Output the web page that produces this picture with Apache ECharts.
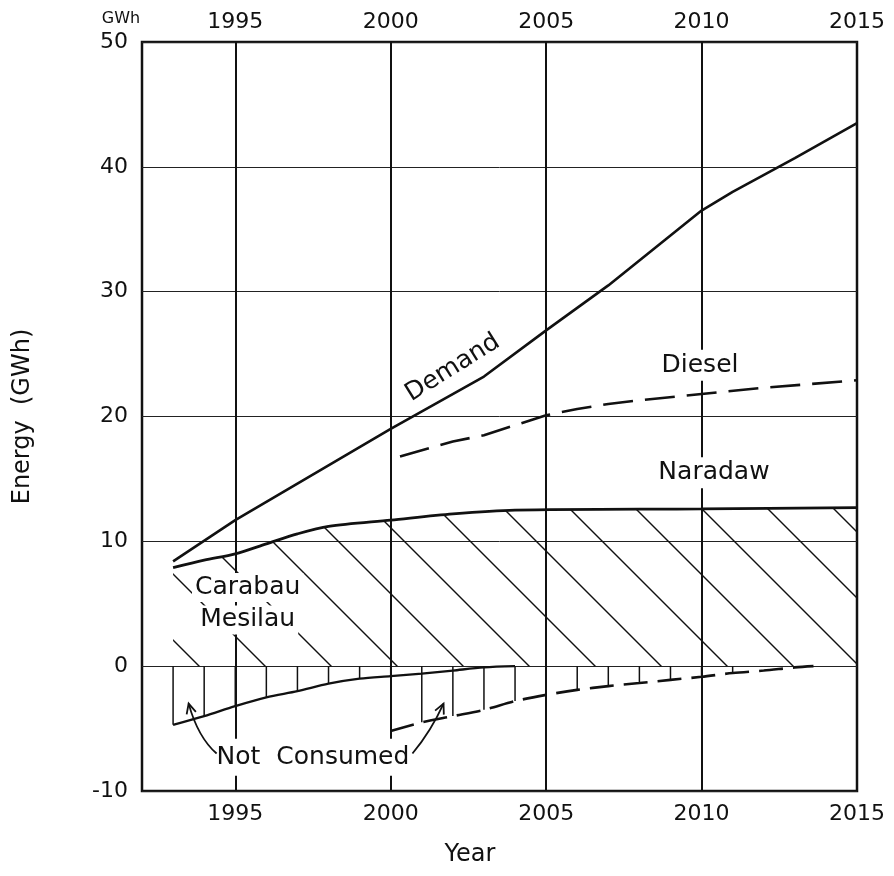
<!DOCTYPE html>
<html><head><meta charset="utf-8">
<script src="https://cdn.jsdelivr.net/npm/echarts@6/dist/echarts.min.js"></script>
<style>html,body{margin:0;padding:0;background:#fff}#c{width:894px;height:876px}</style>
</head><body><div id="c"></div>
<script>
// ---- data ----
const tickYears = [1995, 2000, 2005, 2010, 2015];
const gridYears = [1995, 2000, 2005, 2010];
const yTicks = [-10, 0, 10, 20, 30, 40, 50];

const demandYears  = [1993, 1995, 2000, 2003, 2005, 2007, 2010, 2011, 2013, 2015];
const demandValues = [8.4, 11.7, 19.0, 23.2, 26.9, 30.5, 36.5, 38.0, 40.7, 43.5];

const dieselYears  = [2000.3, 2002, 2003, 2004, 2005, 2006, 2007, 2008, 2010, 2012, 2015];
const dieselValues = [16.8, 18.0, 18.5, 19.3, 20.1, 20.6, 21.0, 21.3, 21.8, 22.3, 22.9];

const naradawYears  = [1993, 1994, 1995, 1996, 1997, 1998, 2000, 2002, 2004, 2010, 2015];
const naradawValues = [7.9, 8.5, 9.0, 9.8, 10.6, 11.2, 11.7, 12.2, 12.5, 12.6, 12.7];

const notConsumedYears  = [1993, 1994, 1995, 1996, 1997, 1998, 1999, 2000, 2001, 2002, 2003, 2004];
const notConsumedValues = [-4.7, -4.0, -3.2, -2.5, -2.0, -1.4, -1.0, -0.8, -0.6, -0.35, -0.1, 0];

const dieselNCYears  = [2000, 2001, 2002, 2003, 2004, 2005, 2006, 2007, 2008, 2009, 2010, 2011, 2012, 2013, 2013.6];
const dieselNCValues = [-5.2, -4.5, -4.0, -3.5, -2.8, -2.3, -1.9, -1.6, -1.35, -1.1, -0.85, -0.55, -0.35, -0.1, 0];

// annotation anchors in data units [year, GWh]
const labelDemand   = [2002.0, 23.9];
const labelDiesel   = [2009.95, 24.1];
const labelNaradaw  = [2010.4, 15.5];
const labelCarabau  = [1995.4, 6.3];
const labelMesilau  = [1995.4, 3.7];
const labelNotCons  = [1997.5, -7.3];
const arrowLeft  = [[1994.4, -7.0], [1993.8, -5.7], [1993.5, -3.0]];
const arrowRight = [[2000.7, -7.0], [2001.3, -5.2], [2001.7, -3.0]];

const zip = (xs, ys) => xs.map((x, i) => [x, ys[i]]);
const FONT = '"DejaVu Sans", sans-serif';
const INK = '#111';

function hatchCanvas() {
  const s = 66, r = 5;
  const c = document.createElement('canvas');
  c.width = s; c.height = s;
  const g = c.getContext('2d');
  g.strokeStyle = INK; g.lineWidth = 1.4;
  for (let k = -1; k <= 1; k++) {
    g.beginPath();
    g.moveTo(-10, -10 + r + k * s);
    g.lineTo(s + 10, s + 10 + r + k * s);
    g.stroke();
  }
  return c;
}

const hatchData = zip(notConsumedYears, notConsumedValues).filter(p => p[0] <= 2000)
  .concat(zip(dieselNCYears, dieselNCValues).filter(p => p[0] > 2000 && p[0] <= 2011));

const chart = echarts.init(document.getElementById('c'), null, {renderer: 'canvas'});

const xLabel = (m) => ({
  color: INK, fontFamily: FONT, fontSize: 22, margin: m,
  formatter: v => tickYears.indexOf(v) >= 0 ? String(v) : ''
});

chart.setOption({
  animation: false,
  backgroundColor: '#fff',
  grid: {left: 142, right: 37, top: 42, bottom: 85, show: true, borderColor: INK, borderWidth: 2.5, containLabel: false},
  xAxis: [
    {type: 'value', min: 1992, max: 2015, interval: 1, position: 'bottom',
     axisLine: {show: false}, axisTick: {show: false}, splitLine: {show: false},
     axisLabel: xLabel(12)},
    {type: 'value', min: 1992, max: 2015, interval: 1, position: 'top',
     axisLine: {show: false}, axisTick: {show: false}, splitLine: {show: false},
     axisLabel: xLabel(9)}
  ],
  yAxis: {
    type: 'value', min: yTicks[0], max: yTicks[yTicks.length - 1], interval: 10,
    axisLine: {show: false}, axisTick: {show: false},
    splitLine: {show: true, lineStyle: {color: '#222', width: 1}},
    axisLabel: {color: INK, fontFamily: FONT, fontSize: 22, margin: 14},
    name: 'Energy  (GWh)', nameLocation: 'middle', nameGap: 107, nameRotate: 90,
    nameTextStyle: {color: INK, fontFamily: FONT, fontSize: 24}
  },
  series: [
    {name: 'Naradaw', type: 'line', data: zip(naradawYears, naradawValues), symbol: 'none', smooth: 0.3,
     lineStyle: {color: INK, width: 2.8},
     areaStyle: {color: {image: hatchCanvas(), repeat: 'repeat'}, opacity: 1, origin: 0}, z: 3},
    {name: 'Demand', type: 'line', data: zip(demandYears, demandValues), symbol: 'none',
     lineStyle: {color: INK, width: 2.6}, z: 4,
     markLine: {silent: true, symbol: ['none', 'none'], label: {show: false},
       lineStyle: {color: INK, width: 2, type: 'solid'},
       data: gridYears.map(v => ({xAxis: v}))}},
    {name: 'Diesel', type: 'line', data: zip(dieselYears, dieselValues), symbol: 'none',
     lineStyle: {color: INK, width: 2.6, type: [30, 12]}, z: 4},
    {name: 'Not consumed (hydro)', type: 'line', data: zip(notConsumedYears, notConsumedValues), symbol: 'none', smooth: 0.3,
     lineStyle: {color: INK, width: 2.3}, z: 4},
    {name: 'Not consumed (diesel)', type: 'line', data: zip(dieselNCYears, dieselNCValues), symbol: 'none', smooth: 0.3,
     lineStyle: {color: INK, width: 2.6, type: [24, 10]}, z: 4},
    {name: 'hatch', type: 'custom', data: hatchData, z: 3,
     renderItem: (params, api) => {
       const a = api.coord([api.value(0), 0]);
       const b = api.coord([api.value(0), api.value(1)]);
       return {type: 'line', shape: {x1: a[0], y1: a[1], x2: b[0], y2: b[1]},
               style: {stroke: INK, lineWidth: 1.5}};
     }}
  ]
});

const P = (d) => chart.convertToPixel({gridIndex: 0}, d);
function label(text, d, opts) {
  const p = P(d);
  return Object.assign({type: 'text', x: p[0], y: p[1], z: 100,
    style: Object.assign({text, fill: INK, font: '25px ' + FONT, align: 'center', verticalAlign: 'middle',
      backgroundColor: '#fff', padding: [3, 4]}, opts || {})});
}
function arrow(pts) {
  const [t, c, h] = pts.map(P);
  const dx = h[0] - c[0], dy = h[1] - c[1], L = Math.hypot(dx, dy);
  const ux = dx / L, uy = dy / L, len = 11, ang = 0.45;
  const rot = (a) => [h[0] - len * (ux * Math.cos(a) - uy * Math.sin(a)), h[1] - len * (uy * Math.cos(a) + ux * Math.sin(a))];
  return [
    {type: 'bezierCurve', z: 100, shape: {x1: t[0], y1: t[1], cpx1: c[0], cpy1: c[1], x2: h[0], y2: h[1]},
     style: {stroke: INK, lineWidth: 1.8, fill: null}},
    {type: 'polyline', z: 100, shape: {points: [rot(ang), h, rot(-ang)]}, style: {stroke: INK, lineWidth: 1.8, fill: null}}
  ];
}
const dem = label('Demand', labelDemand, {backgroundColor: null});
dem.rotation = 32 * Math.PI / 180;

chart.setOption({
  graphic: [
    dem,
    label('Diesel', labelDiesel),
    label('Naradaw', labelNaradaw),
    label('Carabau', labelCarabau, {padding: [2, 3]}),
    label('Mesilau', labelMesilau, {padding: [2, 3]}),
    label('Not  Consumed', labelNotCons, {padding: [6, 3]}),
    ...arrow(arrowLeft),
    ...arrow(arrowRight),
    {type: 'text', x: 121, y: 19, z: 100, style: {text: 'GWh', fill: INK, font: '16px ' + FONT, align: 'center', verticalAlign: 'middle'}},
    {type: 'text', x: 470, y: 855, z: 100, style: {text: 'Year', fill: INK, font: '24px ' + FONT, align: 'center', verticalAlign: 'middle'}}
  ]
});
</script></body></html>
